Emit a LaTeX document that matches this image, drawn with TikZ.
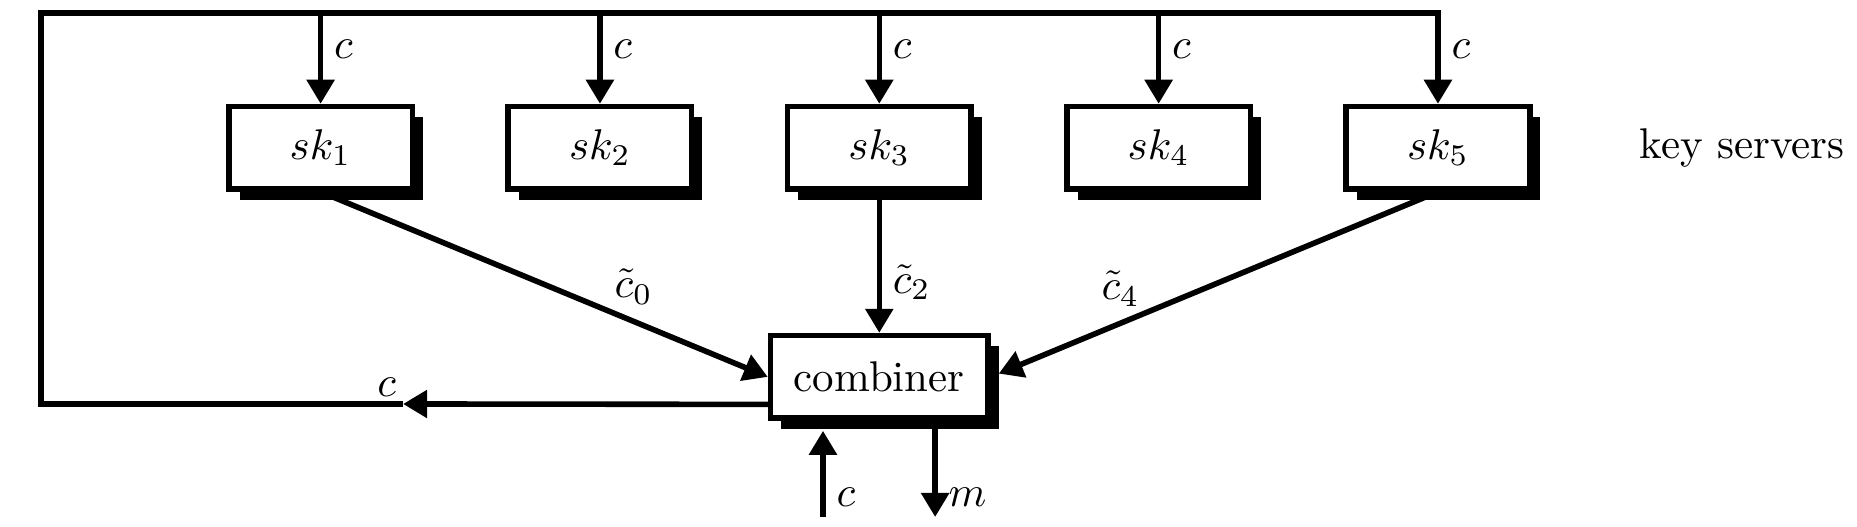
\documentclass[tikz,border=0pt]{standalone}
\usetikzlibrary{positioning,arrows.meta,shadows}
\tikzstyle{diagram} = [line width=1.3pt]
\tikzstyle{serverStyle} = [draw, fill=white, minimum width=42.7pt, minimum height=19.2pt, inner sep=0pt, drop shadow={shadow xshift=2.5pt, shadow yshift=-2.5pt, fill=black, opacity=1}]
\tikzstyle{combinerStyle} = [serverStyle, minimum width=50.6pt]
\tikzstyle{flowLine} = [-{Triangle[length=5.6pt, width=6.3pt]}]
\tikzstyle{flowLabel} = [inner sep=2.5pt]
\newcommand{\serverX}{65pt}

\begin{document}
\begin{tikzpicture}[diagram]
  \useasboundingbox (0,0) rectangle (432.1pt,-122.6pt);
  \foreach \i in {1,...,5} {
    \node [serverStyle] (sk\i) at ({74.6pt + (\i - 1) * \serverX}, -34.4pt) {$sk_{\i}$};
  }
  \node [combinerStyle, below = 32.8pt of sk3] (combiner) {combiner};
  \node [right = 21pt of sk5] (keyServers) {key servers};

  \coordinate (returnStart) at ([yshift=-6.4pt]combiner.west);
  \coordinate (returnTip) at (93.8pt, -94pt);
  \coordinate (frameBottom) at (9.54pt, -94pt);
  \coordinate (frameTop) at (9.54pt, -3pt);
  \coordinate (cipherIn) at (191.5pt, -120.3pt);
  \coordinate (messageOut) at (217.6pt, -120.3pt);

  \draw [flowLine] (returnStart) -- node [pos=1, above left, inner sep=1pt] {$c$} (returnTip);
  \draw [flowLine] (returnTip) -- (frameBottom) -- (frameTop) -| node [pos=0.7, right, flowLabel] {$c$} (sk5.north);
  \foreach \i in {1,...,4} {
    \draw [flowLine] (frameTop -| sk\i) -- node [pos=0.4, right, flowLabel] {$c$} (sk\i.north);
  }

  \draw [flowLine] (sk1.south) -- node [pos=0.7, above] {$\tilde{c}_0$} (combiner.west);
  \draw [flowLine] (sk3.south) -- node [pos=0.64, right, flowLabel] {$\tilde{c}_2$} (combiner.north);
  \draw [flowLine, shorten >=2pt] (sk5.south) -- node [pos=0.71, above] {$\tilde{c}_4$} (combiner.east);

  \draw [flowLine, shorten >=2.3pt] (cipherIn) -- node [pos=0.21, right, flowLabel] {$c$} (cipherIn |- combiner.south);
  \draw [flowLine] (combiner.south -| messageOut) -- node [pos=0.79, right, flowLabel] {$m$} (messageOut);
\end{tikzpicture}
\end{document}
